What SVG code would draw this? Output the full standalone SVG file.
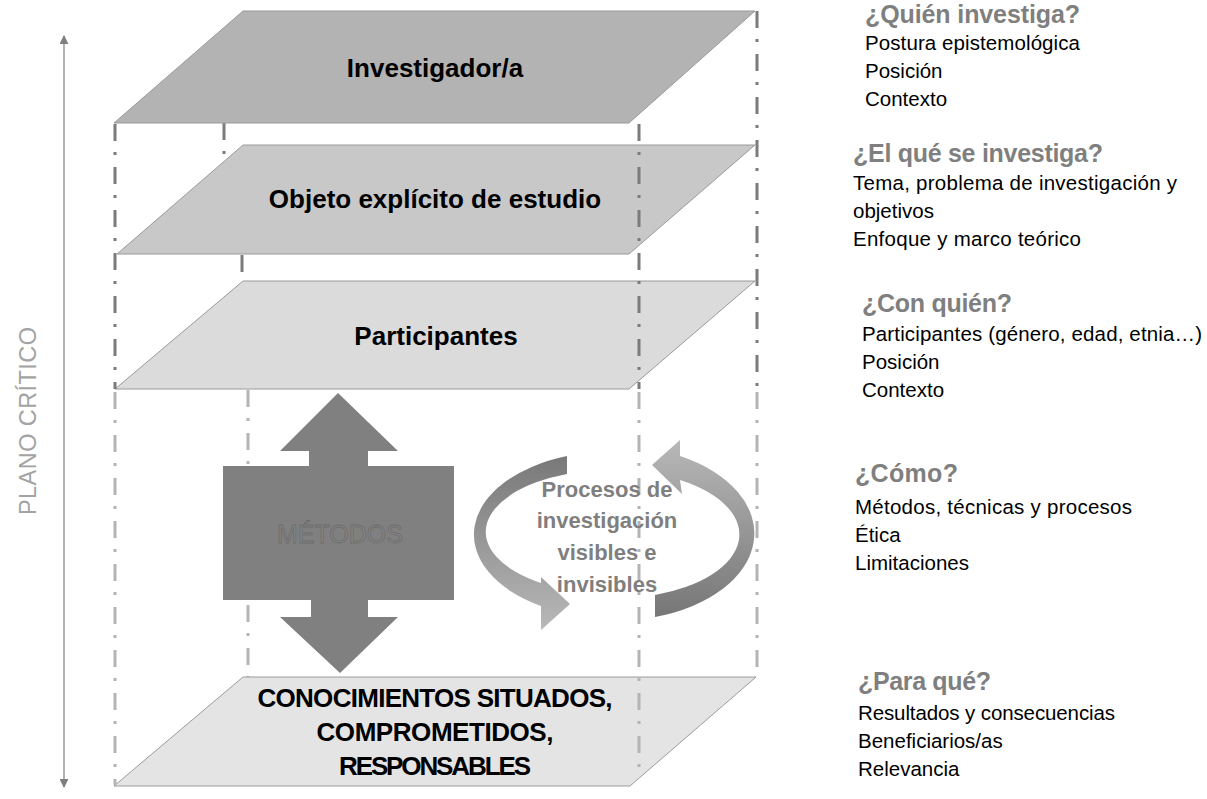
<svg xmlns="http://www.w3.org/2000/svg" width="1207" height="799" viewBox="0 0 1207 799">
  <defs>
    <style>
      .layer { stroke: #9a9a9a; stroke-width: 1; }
      .lbl { font-family: "Liberation Sans", Arial, sans-serif; font-weight: bold; font-size: 26px; fill: #000; text-anchor: middle; }
      .head { font-family: "Liberation Sans", Arial, sans-serif; font-weight: bold; font-size: 25px; fill: #7f7f7f; }
      .body { font-family: "Liberation Sans", Arial, sans-serif; font-size: 20.5px; fill: #000; }
      .guide-d { fill: none; stroke: #7b7b7b; stroke-width: 3; stroke-dasharray: 17 11 3 12; }
      .guide-l { fill: none; stroke: #b4b4b4; stroke-width: 3; stroke-dasharray: 17 11 3 12; }
      .proc { font-family: "Liberation Sans", Arial, sans-serif; font-weight: bold; font-size: 22px; fill: #7f7f7f; text-anchor: middle; }
    </style>
    <marker id="axhead" viewBox="0 0 10 10" refX="9" refY="5" markerWidth="9" markerHeight="9" markerUnits="userSpaceOnUse" orient="auto-start-reverse">
      <path d="M0,0 L10,5 L0,10 Z" fill="#7f7f7f"/>
    </marker>
    <linearGradient id="gLeft" x1="0" y1="452" x2="0" y2="630" gradientUnits="userSpaceOnUse">
      <stop offset="0" stop-color="#777777"/>
      <stop offset="1" stop-color="#b8b8b8"/>
    </linearGradient>
    <linearGradient id="gRight" x1="0" y1="440" x2="0" y2="618" gradientUnits="userSpaceOnUse">
      <stop offset="0" stop-color="#b8b8b8"/>
      <stop offset="1" stop-color="#767676"/>
    </linearGradient>
  </defs>

  <rect width="1207" height="799" fill="#ffffff"/>

  <g id="axis">
    <line x1="64" y1="36" x2="64" y2="787" stroke="#7f7f7f" stroke-width="1.2" marker-start="url(#axhead)" marker-end="url(#axhead)"/>
    <text transform="translate(36,421) rotate(-90)" font-family="'Liberation Sans', Arial, sans-serif" font-size="23.5" fill="#a3a3a3" text-anchor="middle" textLength="188">PLANO CRÍTICO</text>
  </g>

  <g id="guides-back">
    <line class="guide-d" x1="224" y1="123" x2="224" y2="158"/>
    <line class="guide-d" x1="242" y1="255" x2="242" y2="281"/>
    <line class="guide-l" x1="248" y1="390" x2="248" y2="677"/>
  </g>

  <g id="layer-investigador">
    <polygon class="layer" points="243,11 755,11 629,123 114,123" fill="#b3b3b3"/>
    <text class="lbl" x="435" y="77">Investigador/a</text>
  </g>
  <g id="layer-objeto">
    <polygon class="layer" points="243,145 755,145 629,254 117,254" fill="#c8c8c8"/>
    <text class="lbl" x="435" y="208">Objeto explícito de estudio</text>
  </g>
  <g id="layer-participantes">
    <polygon class="layer" points="243,281 755,281 629,389 115,389" fill="#dbdbdb"/>
    <text class="lbl" x="436" y="345">Participantes</text>
  </g>
  <g id="layer-conocimientos">
    <polygon class="layer" points="243,677 756,677 630,786 114,786" fill="#e4e4e4"/>
    <text class="lbl" x="435" y="707" font-size="24.5" textLength="355">CONOCIMIENTOS SITUADOS,</text>
    <text class="lbl" x="435" y="741" font-size="24.5" textLength="237">COMPROMETIDOS,</text>
    <text class="lbl" x="435" y="775" font-size="24.5" textLength="192">RESPONSABLES</text>
  </g>

  <g id="connectors">
    <line class="guide-d" x1="115" y1="124" x2="115" y2="389"/>
    <line class="guide-l" x1="115" y1="392" x2="115" y2="785"/>
    <line class="guide-d" x1="639" y1="124" x2="639" y2="389"/>
    <line class="guide-l" x1="639" y1="392" x2="639" y2="775"/>
    <line class="guide-d" x1="757" y1="11" x2="757" y2="389"/>
    <line class="guide-l" x1="757" y1="392" x2="757" y2="678"/>
  </g>

  <g id="metodos">
    <polygon points="338,393 398,451 368,451 368,466 454,466 454,600 368,600 368,617 398,617 340,673 280,617 311,617 311,600 223,600 223,466 309,466 309,451 280,451" fill="#808080"/>
    <text x="340" y="543" font-family="'Liberation Sans', Arial, sans-serif" font-size="25" fill="#858585" stroke="#6c6c6c" stroke-width="0.8" text-anchor="middle">MÉTODOS</text>
  </g>

  <g id="procesos">
    <path d="M 567 456 A 137 83 0 0 0 541 606 L 541 630 L 570 604 L 541 577 L 541 583 A 127 62 0 0 1 567 474 Z" fill="url(#gLeft)"/>
    <path d="M 655 617 A 137 87 0 0 0 680 456 L 680 440 L 652 465 L 682 494 L 680 480 A 125 64 0 0 1 655 595 Z" fill="url(#gRight)"/>
    <text class="proc" x="607" y="497">Procesos de</text>
    <text class="proc" x="607" y="528">investigación</text>
    <text class="proc" x="607" y="560">visibles e</text>
    <text class="proc" x="607" y="592">invisibles</text>
  </g>

  <g id="q-quien">
    <text class="head" x="865" y="23" textLength="215">¿Quién investiga?</text>
    <text class="body" x="865" y="50" textLength="215">Postura epistemológica</text>
    <text class="body" x="865" y="78">Posición</text>
    <text class="body" x="865" y="106">Contexto</text>
  </g>
  <g id="q-que">
    <text class="head" x="853" y="162" textLength="250">¿El qué se investiga?</text>
    <text class="body" x="853" y="190" textLength="324" lengthAdjust="spacing">Tema, problema de investigación y</text>
    <text class="body" x="853" y="218">objetivos</text>
    <text class="body" x="853" y="246" textLength="228">Enfoque y marco teórico</text>
  </g>
  <g id="q-con">
    <text class="head" x="862" y="312" textLength="150">¿Con quién?</text>
    <text class="body" x="862" y="341" textLength="340">Participantes (género, edad, etnia…)</text>
    <text class="body" x="862" y="369">Posición</text>
    <text class="body" x="862" y="397">Contexto</text>
  </g>
  <g id="q-como">
    <text class="head" x="855" y="482" textLength="103">¿Cómo?</text>
    <text class="body" x="855" y="514" textLength="277">Métodos, técnicas y procesos</text>
    <text class="body" x="855" y="542">Ética</text>
    <text class="body" x="855" y="570">Limitaciones</text>
  </g>
  <g id="q-para">
    <text class="head" x="858" y="690" textLength="133">¿Para qué?</text>
    <text class="body" x="858" y="720" textLength="257">Resultados y consecuencias</text>
    <text class="body" x="858" y="748">Beneficiarios/as</text>
    <text class="body" x="858" y="776">Relevancia</text>
  </g>
</svg>
